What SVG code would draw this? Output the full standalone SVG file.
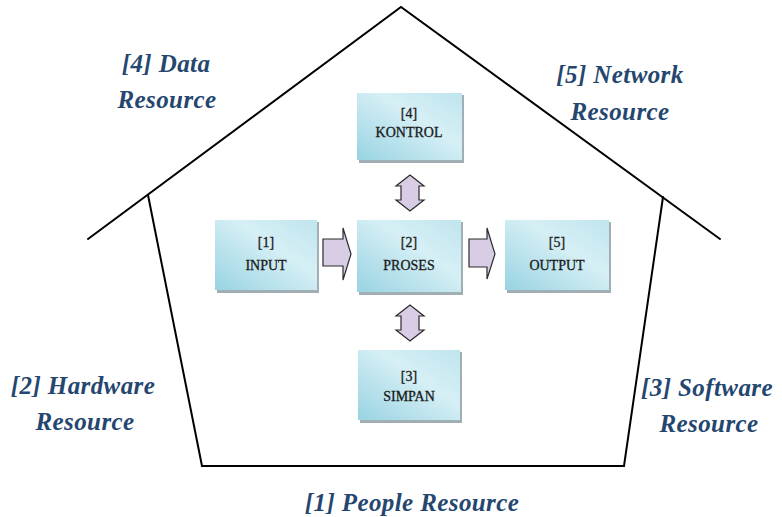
<svg xmlns="http://www.w3.org/2000/svg" width="782" height="517" viewBox="0 0 782 517">
  <defs>
    <linearGradient id="boxFill" x1="0" y1="1" x2="1" y2="0">
      <stop offset="0" stop-color="#98d3e2"/>
      <stop offset="0.6" stop-color="#d6eff5"/>
      <stop offset="1" stop-color="#bfe5ee"/>
    </linearGradient>
  </defs>
  <style>
    .house { fill: none; stroke: #000; stroke-width: 2; stroke-linecap: round; }
    .label { font-family: "Liberation Serif", "Times New Roman", serif; font-weight: bold; font-style: italic; font-size: 25px; letter-spacing: 0.4px; fill: #24466f; text-anchor: middle; }
    .box { fill: url(#boxFill); }
    .shadow { fill: #8a9aa0; opacity: 0.8; }
    .boxtext { font-family: "Liberation Serif", "Times New Roman", serif; font-size: 14px; fill: #1a1a1a; stroke: #1a1a1a; stroke-width: 0.3; text-anchor: middle; }
    .arrow { fill: #d9cde6; stroke: #2a2a2a; stroke-width: 1.2; stroke-linejoin: miter; }
  </style>

  <rect width="782" height="517" fill="#fff"/>

  <!-- house outline: roof and walls -->
  <g id="house">
    <polyline class="house" points="88,239 401,7 720,239"/>
    <polyline class="house" points="148,195 202,466 624,466 663,197"/>
  </g>

  <!-- resource labels -->
  <g id="label-data">
    <text class="label" x="166" y="72">[4] Data</text>
    <text class="label" x="167" y="108">Resource</text>
  </g>
  <g id="label-network">
    <text class="label" x="620" y="83">[5] Network</text>
    <text class="label" x="620" y="120">Resource</text>
  </g>
  <g id="label-hardware">
    <text class="label" x="83" y="394">[2] Hardware</text>
    <text class="label" x="85" y="430">Resource</text>
  </g>
  <g id="label-software">
    <text class="label" x="707" y="396">[3] Software</text>
    <text class="label" x="709" y="432">Resource</text>
  </g>
  <g id="label-people">
    <text class="label" x="412" y="511">[1] People Resource</text>
  </g>

  <!-- process boxes -->
  <g id="kontrol">
    <rect class="shadow" x="359" y="95" width="105" height="68"/>
    <rect class="box" x="357" y="93" width="105" height="67"/>
    <text class="boxtext" x="409" y="118">[4]</text>
    <text class="boxtext" x="409" y="137">KONTROL</text>
  </g>
  <g id="input">
    <rect class="shadow" x="217" y="222" width="102" height="71"/>
    <rect class="box" x="215" y="220" width="102" height="70"/>
    <text class="boxtext" x="266" y="247">[1]</text>
    <text class="boxtext" x="266" y="270">INPUT</text>
  </g>
  <g id="proses">
    <rect class="shadow" x="359" y="222" width="104" height="73"/>
    <rect class="box" x="357" y="220" width="104" height="72"/>
    <text class="boxtext" x="409" y="247">[2]</text>
    <text class="boxtext" x="409" y="270">PROSES</text>
  </g>
  <g id="output">
    <rect class="shadow" x="507" y="222" width="104" height="71"/>
    <rect class="box" x="505" y="220" width="104" height="70"/>
    <text class="boxtext" x="557" y="247">[5]</text>
    <text class="boxtext" x="557" y="270">OUTPUT</text>
  </g>
  <g id="simpan">
    <rect class="shadow" x="360" y="352" width="102" height="71"/>
    <rect class="box" x="358" y="350" width="102" height="70"/>
    <text class="boxtext" x="409" y="381">[3]</text>
    <text class="boxtext" x="409" y="401">SIMPAN</text>
  </g>

  <!-- connectors: block arrows -->
  <g id="connectors">
    <path class="arrow" d="M323,239 H343 V228 L351,254 L343,280 V266 H323 Z"/>
    <path class="arrow" d="M469,239 H487 V228 L495,254 L487,279 V267 H469 Z"/>
    <path class="arrow" d="M401,186 H396 L410,175 L424,186 H419 V200 H424 L410,211 L396,200 H401 Z"/>
    <path class="arrow" d="M401,316 H396 L410,305 L424,316 H419 V330 H424 L410,341 L396,330 H401 Z"/>
  </g>
</svg>
